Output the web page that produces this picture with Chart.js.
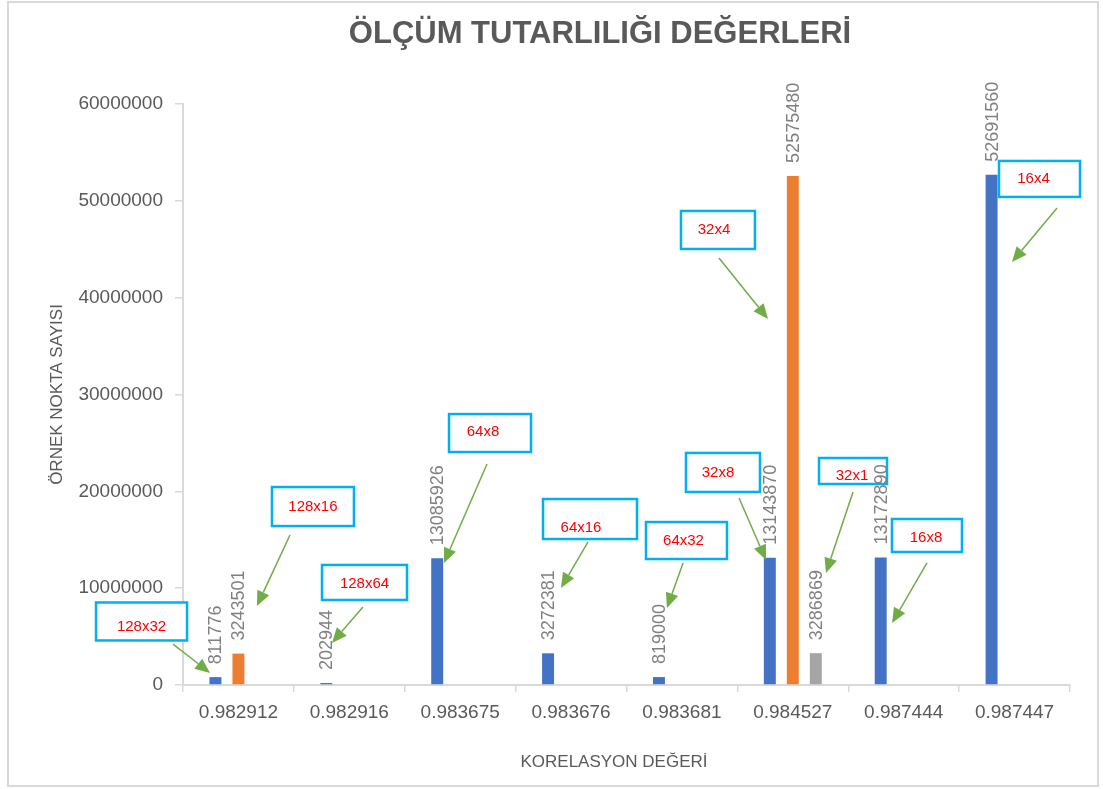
<!DOCTYPE html>
<html lang="tr">
<head>
<meta charset="UTF-8">
<title>Ölçüm Tutarlılığı Değerleri</title>
<style>
    html, body { margin: 0; padding: 0; background: #fff; }
    #wrap { position: absolute; left: 0; top: 0; width: 1103px; height: 789px; }
</style>
</head>
<body>
<div id="wrap"><canvas id="myChart" width="1103" height="789"></canvas></div>

<script src="https://cdn.jsdelivr.net/npm/chart.js"></script>
<script>
    // chart data
    var korelasyon = ['0.982912', '0.982916', '0.983675', '0.983676', '0.983681', '0.984527', '0.987444', '0.987447'];
    var seri1 = [811776, 202944, 13085926, 3272381, 819000, 13143870, 13172890, 52691560];
    var seri2 = [3243501, null, null, null, null, 52575480, null, null];
    var seri3 = [null, null, null, null, null, 3286869, null, null];
    var yMin = 0, yMax = 60000000, yStep = 10000000;

    // callouts: box centre / arrow tail / arrow tip in data units (category index, value)
    var callouts = [
        { text: '128x32', box: [-0.874, 6560000], size: [91, 38], off: [0, 5], tail: [-0.59, 4230000], tip: [-0.256, 1240000] },
        { text: '128x16', box: [0.672, 18430000], size: [82, 39], off: [0, 0], tail: [0.465, 15490000], tip: [0.167, 8160000] },
        { text: '128x64', box: [1.137, 10590000], size: [85, 35], off: [0, 1], tail: [1.123, 8060000], tip: [0.844, 4340000] },
        { text: '64x8', box: [2.269, 26020000], size: [82, 38], off: [-7, -1], tail: [2.242, 22820000], tip: [1.854, 12600000] },
        { text: '64x16', box: [3.171, 17140000], size: [94, 40], off: [-9, 9], tail: [3.153, 14770000], tip: [2.909, 10020000] },
        { text: '64x32', box: [4.041, 14920000], size: [81, 37], off: [-3, 0], tail: [4.010, 12600000], tip: [3.865, 7950000] },
        { text: '32x8', box: [4.370, 21950000], size: [74, 39], off: [-5, 0], tail: [4.515, 19310000], tip: [4.758, 12910000] },
        { text: '32x4', box: [4.325, 46990000], size: [74, 38], off: [-4, 0], tail: [4.334, 44100000], tip: [4.776, 37800000] },
        { text: '32x1', box: [5.543, 22100000], size: [68, 26], off: [-1, 5], tail: [5.543, 19930000], tip: [5.299, 11570000] },
        { text: '16x8', box: [6.210, 15440000], size: [70, 33], off: [-1, 2], tail: [6.210, 12600000], tip: [5.895, 6400000] },
        { text: '16x4', box: [7.225, 52260000], size: [81, 36], off: [-6, 0], tail: [7.383, 49260000], tip: [6.977, 43680000] }
    ];

    var FONT = "'Liberation Sans', Arial, sans-serif";
    var GREY = '#595959';

    // frame, title and x axis title
    var framePlugin = {
        id: 'frame',
        beforeDraw: function (chart) {
            var ctx = chart.ctx;
            ctx.save();
            ctx.fillStyle = '#fff';
            ctx.fillRect(0, 0, chart.width, chart.height);
            ctx.strokeStyle = '#d9d9d9';
            ctx.lineWidth = 2;
            ctx.strokeRect(8, 2, 1090, 784);
            ctx.fillStyle = GREY;
            ctx.textAlign = 'center';
            ctx.font = "bold 31px " + FONT;
            ctx.textBaseline = 'alphabetic';
            ctx.fillText('ÖLÇÜM TUTARLILIĞI DEĞERLERİ', 600, 43);
            ctx.font = "17px " + FONT;
            ctx.textBaseline = 'middle';
            ctx.fillText('KORELASYON DEĞERİ', 614, 762);
            ctx.restore();
        }
    };

    // callout boxes, arrows and rotated value labels
    var labelPlugin = {
        id: 'labels',
        afterDatasetsDraw: function (chart) {
            var ctx = chart.ctx;
            var xs = chart.scales.x, ys = chart.scales.y;
            function pt(p) { return [xs.getPixelForValue(p[0]), ys.getPixelForValue(p[1])]; }

            ctx.save();
            callouts.forEach(function (c) {
                var b = pt(c.box), t0 = pt(c.tail), t1 = pt(c.tip);
                var w = c.size[0], h = c.size[1];
                ctx.fillStyle = '#fff';
                ctx.fillRect(b[0] - w / 2, b[1] - h / 2, w, h);
                ctx.strokeStyle = '#00b0f0';
                ctx.lineWidth = 2.5;
                ctx.strokeRect(b[0] - w / 2, b[1] - h / 2, w, h);
                ctx.fillStyle = '#ff0000';
                ctx.font = "15px " + FONT;
                ctx.textAlign = 'center';
                ctx.textBaseline = 'middle';
                ctx.fillText(c.text, b[0] + c.off[0], b[1] + c.off[1]);

                // arrow
                var ang = Math.atan2(t1[1] - t0[1], t1[0] - t0[0]);
                var len = 15, half = 6.5;
                var bx = t1[0] - len * Math.cos(ang), by = t1[1] - len * Math.sin(ang);
                ctx.strokeStyle = '#70ad47';
                ctx.lineWidth = 1.5;
                ctx.beginPath();
                ctx.moveTo(t0[0], t0[1]);
                ctx.lineTo(bx, by);
                ctx.stroke();
                ctx.fillStyle = '#70ad47';
                ctx.beginPath();
                ctx.moveTo(t1[0], t1[1]);
                ctx.lineTo(bx + half * Math.sin(ang), by - half * Math.cos(ang));
                ctx.lineTo(bx - half * Math.sin(ang), by + half * Math.cos(ang));
                ctx.closePath();
                ctx.fill();
            });

            ctx.fillStyle = '#808080';
            ctx.font = "18px " + FONT;
            ctx.textAlign = 'left';
            ctx.textBaseline = 'middle';
            chart.data.datasets.forEach(function (ds, i) {
                chart.getDatasetMeta(i).data.forEach(function (bar, j) {
                    var v = ds.data[j];
                    if (v === null || v === undefined) return;
                    ctx.save();
                    ctx.translate(bar.x + 1, bar.y - 13);
                    ctx.rotate(-Math.PI / 2);
                    ctx.fillText(String(v), 0, 0);
                    ctx.restore();
                });
            });
            ctx.restore();
        }
    };

    function createChart() {
        var ctx = document.getElementById('myChart').getContext('2d');
        new Chart(ctx, {
            type: 'bar',
            data: {
                labels: korelasyon,
                datasets: [
                    { label: 'Seri1', data: seri1, backgroundColor: '#4472c4' },
                    { label: 'Seri2', data: seri2, backgroundColor: '#ed7d31' },
                    { label: 'Seri3', data: seri3, backgroundColor: '#a5a5a5' }
                ]
            },
            options: {
                responsive: false,
                animation: false,
                categoryPercentage: 0.622,
                barPercentage: 0.52,
                layout: { padding: { top: 104, left: 8, right: 33, bottom: 0 } },
                plugins: {
                    legend: { display: false },
                    tooltip: { enabled: false },
                    title: { display: false }
                },
                scales: {
                    x: {
                        afterFit: function (s) { s.height = 104; },
                        grid: { offset: true, drawOnChartArea: false, tickLength: 7, color: '#d9d9d9', lineWidth: 1.5 },
                        border: { color: '#d9d9d9', width: 2 },
                        ticks: { color: GREY, font: { family: FONT, size: 19 }, padding: 9, maxRotation: 0, autoSkip: false }
                    },
                    y: {
                        min: yMin, max: yMax,
                        afterFit: function (s) { s.width = 175; },
                        grid: { drawOnChartArea: false, tickLength: 8, color: '#d9d9d9', lineWidth: 1.5 },
                        border: { color: '#d9d9d9', width: 2 },
                        ticks: {
                            stepSize: yStep, color: GREY, font: { family: FONT, size: 19 }, padding: 12,
                            callback: function (v) { return String(v); }
                        },
                        title: {
                            display: true, text: 'ÖRNEK NOKTA SAYISI', color: GREY,
                            font: { family: FONT, size: 17 }, padding: { top: 39, bottom: 0 }
                        }
                    }
                }
            },
            plugins: [framePlugin, labelPlugin]
        });
    }

    createChart();
</script>
</body>
</html>
